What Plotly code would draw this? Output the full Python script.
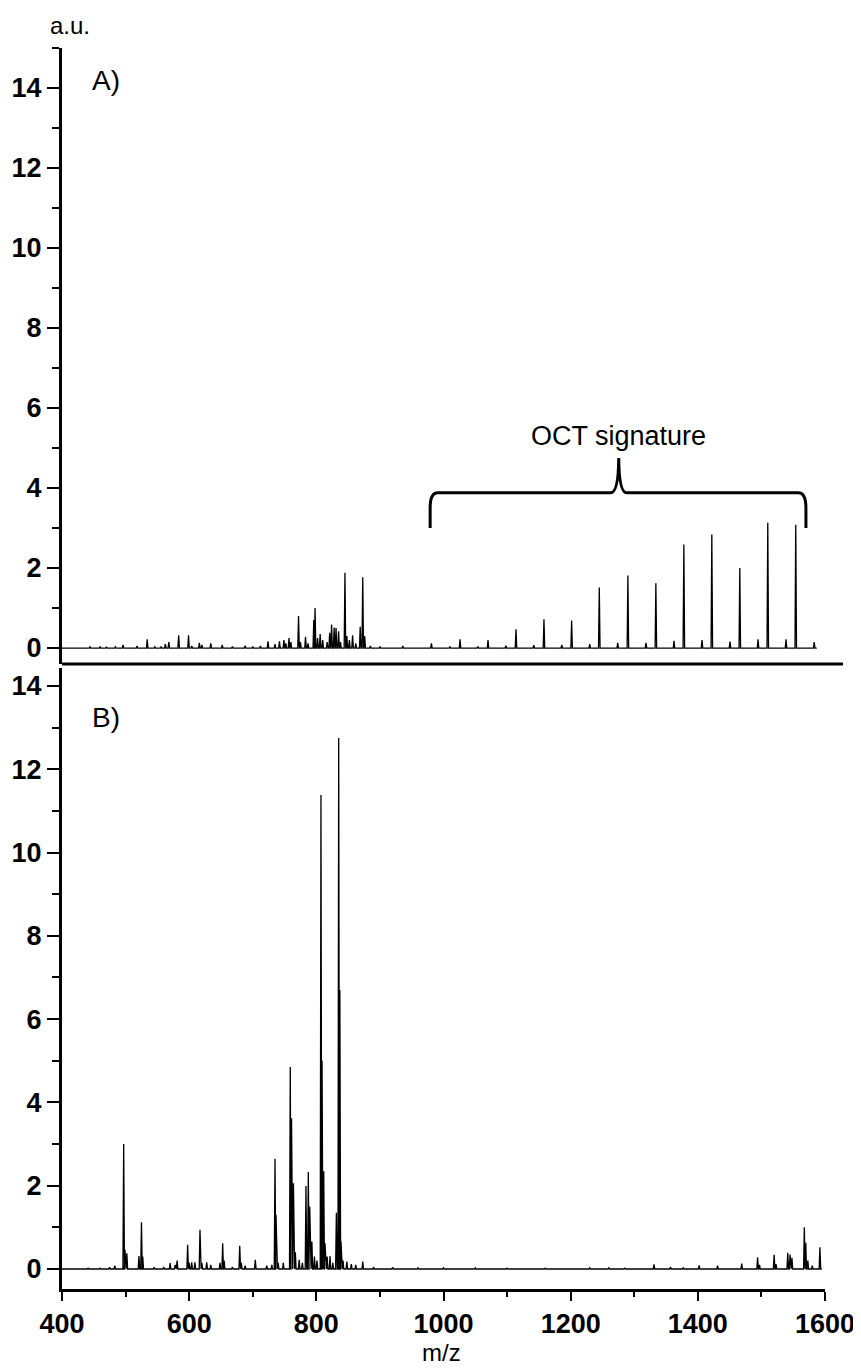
import plotly.graph_objects as go

# ---------------- data ----------------
# Panel A: sample spectrum with OCT signature (m/z, intensity in a.u.)
a_mz = [444, 460, 470, 484, 496, 518, 534, 546, 556, 562.5, 568, 583.5, 599, 604,
        616, 620, 634, 652, 668, 688, 700, 712, 724, 735, 742, 749, 752, 757, 760,
        772, 775, 783, 787, 796, 798, 802, 806, 810, 817, 821, 824, 828, 831, 835,
        838, 845, 848, 852, 857, 862, 869, 873, 876, 885, 900, 936, 981, 1010, 1026,
        1054, 1070, 1098, 1114, 1142, 1158, 1186, 1201.5, 1230, 1245, 1274, 1290,
        1318.5, 1334, 1362.5, 1378, 1406.6, 1422, 1450.6, 1466, 1494.7, 1510,
        1538.7, 1554, 1583]
a_int = [0.03, 0.04, 0.02, 0.03, 0.08, 0.05, 0.22, 0.03, 0.04, 0.10, 0.15, 0.32, 0.32, 0.05,
         0.13, 0.08, 0.12, 0.08, 0.04, 0.06, 0.04, 0.05, 0.17, 0.10, 0.17, 0.20, 0.12, 0.25, 0.15,
         0.80, 0.15, 0.28, 0.12, 0.70, 1.00, 0.25, 0.35, 0.20, 0.15, 0.38, 0.59, 0.51, 0.50, 0.42,
         0.15, 1.88, 0.30, 0.20, 0.32, 0.12, 0.53, 1.77, 0.30, 0.05, 0.04, 0.05, 0.12, 0.04, 0.22,
         0.04, 0.20, 0.06, 0.47, 0.07, 0.72, 0.08, 0.69, 0.10, 1.51, 0.13, 1.81,
         0.13, 1.62, 0.18, 2.59, 0.20, 2.84, 0.16, 2.00, 0.22, 3.13,
         0.22, 3.08, 0.15]
a_range_mz = [400, 1587]

# Panel B: reference spectrum
b_mz = [441, 460, 475, 483, 497, 499, 502, 521, 525, 527, 545, 560, 570, 578, 581,
        597.6, 600, 604, 609, 617, 620, 627.6, 634, 648.5, 652.7, 655, 668, 679.5, 682,
        688, 704, 722, 730, 735, 736.6, 740, 748, 759, 761, 764, 767, 773, 778, 783.7,
        787.4, 789.6, 793, 797, 801, 807.3, 809, 811.6, 813.6, 817, 821.5, 826, 831.5,
        835.2, 837, 838.8, 842, 848, 855, 862, 873, 890, 920, 960, 1000, 1050, 1100,
        1160, 1230, 1260, 1285, 1331, 1357, 1377, 1402, 1431, 1469, 1494, 1497, 1520,
        1523, 1541.4, 1545, 1548, 1567.5, 1569.7, 1573, 1580, 1592]
b_int = [0.02, 0.02, 0.04, 0.08, 3.00, 0.47, 0.38, 0.31, 1.12, 0.30, 0.04, 0.05, 0.14, 0.10, 0.20,
         0.58, 0.15, 0.16, 0.16, 0.94, 0.15, 0.16, 0.10, 0.15, 0.62, 0.20, 0.05, 0.56, 0.15,
         0.08, 0.22, 0.08, 0.10, 2.65, 1.30, 0.15, 0.15, 4.85, 3.62, 2.06, 0.40, 0.22, 0.15, 1.99,
         2.33, 1.50, 0.66, 0.30, 0.20, 11.38, 5.00, 2.35, 0.62, 0.30, 0.31, 0.15, 1.35,
         12.75, 6.70, 0.66, 0.20, 0.18, 0.12, 0.10, 0.18, 0.05, 0.04, 0.03, 0.03, 0.03, 0.02,
         0.02, 0.03, 0.03, 0.02, 0.11, 0.05, 0.03, 0.09, 0.08, 0.13, 0.28, 0.10, 0.34,
         0.12, 0.39, 0.35, 0.27, 1.00, 0.63, 0.20, 0.08, 0.52]
b_range_mz = [400, 1595]

x_ticks = [400, 600, 800, 1000, 1200, 1400, 1600]
y_ticks = [0, 2, 4, 6, 8, 10, 12, 14]


def stick_spectrum(mz, inten, span, half_width=1.2):
    """Turn a peak list into a line trace: narrow peaks on a zero baseline."""
    xs, ys = [span[0]], [0.0]
    for m, h in sorted(zip(mz, inten)):
        xs += [m - half_width, m, m + half_width]
        ys += [0.0, h, 0.0]
    xs.append(span[1])
    ys.append(0.0)
    return xs, ys


ax, ay = stick_spectrum(a_mz, a_int, a_range_mz)
bx, by = stick_spectrum(b_mz, b_int, b_range_mz)

FONT = "Liberation Sans, Arial, sans-serif"
LINE = dict(color="black", width=1.3)

fig = go.Figure()
fig.add_trace(go.Scatter(x=ax, y=ay, mode="lines", line=LINE, xaxis="x2", yaxis="y2",
                         hoverinfo="skip", showlegend=False))
fig.add_trace(go.Scatter(x=bx, y=by, mode="lines", line=LINE, xaxis="x", yaxis="y",
                         hoverinfo="skip", showlegend=False))

tickfont = dict(family=FONT, size=27, color="black", weight="bold")
yaxis_common = dict(
    tickmode="array", tickvals=y_ticks, ticktext=[str(v) for v in y_ticks],
    ticks="outside", ticklen=12, tickwidth=2, tickcolor="black",
    minor=dict(dtick=1, tick0=0, ticks="outside", ticklen=7, tickwidth=2, tickcolor="black"),
    showline=True, linewidth=3, linecolor="black", showgrid=False, zeroline=False,
    tickfont=tickfont, fixedrange=True, automargin=False,
)

# The page body adds an 8 px offset; margins compensate so the plot lands where the reference has it.
fig.update_layout(
    width=861, height=1368,
    margin=dict(l=54, r=44, t=40, b=87),
    paper_bgcolor="white", plot_bgcolor="white",
    showlegend=False,
    xaxis=dict(
        domain=[0, 1], range=[400, 1600], anchor="y",
        tickmode="array", tickvals=x_ticks, ticktext=[str(v) for v in x_ticks],
        ticks="outside", ticklen=9, tickwidth=2, tickcolor="black",
        minor=dict(dtick=100, tick0=400, ticks="outside", ticklen=5, tickwidth=2, tickcolor="black"),
        showline=True, linewidth=3, linecolor="black", showgrid=False, zeroline=False,
        tickfont=tickfont, automargin=False,
    ),
    yaxis=dict(domain=[0, 0.5004], range=[-0.48, 14.43], anchor="x", **yaxis_common),
    xaxis2=dict(
        domain=[0, 1], range=[400, 1600], anchor="y2", matches="x",
        showline=False, showticklabels=False, ticks="", showgrid=False, zeroline=False,
    ),
    yaxis2=dict(domain=[0.5036, 1], range=[-0.4, 15], anchor="x2", **yaxis_common),
)

# bottom frame line of panel A (extends slightly past the plot)
fig.add_shape(type="line", xref="paper", yref="paper", x0=0, x1=1.0236, y0=0.5036, y1=0.5036,
              line=dict(color="black", width=3))

# curly bracket over the OCT series
bracket = ("M 979,3.0 L 979,3.5 Q 979,3.88 991,3.88 L 1263,3.88 "
           "Q 1275,3.88 1275.6,4.75 Q 1276.2,3.88 1288,3.88 L 1558,3.88 "
           "Q 1570,3.88 1570,3.5 L 1570,3.0")
fig.add_shape(type="path", path=bracket, xref="x2", yref="y2",
              line=dict(color="black", width=3))

fig.add_annotation(x=1275, y=5.3, xref="x2", yref="y2", text="OCT signature",
                   showarrow=False, xanchor="center", yanchor="middle",
                   font=dict(family=FONT, size=27, color="black"))
fig.add_annotation(x=444, y=14.18, xref="x2", yref="y2", text="A)", showarrow=False,
                   xanchor="left", yanchor="middle", font=dict(family=FONT, size=28, color="black"))
fig.add_annotation(x=444, y=13.23, xref="x", yref="y", text="B)", showarrow=False,
                   xanchor="left", yanchor="middle", font=dict(family=FONT, size=28, color="black"))
fig.add_annotation(x=0.0105, y=1.0185, xref="paper", yref="paper", text="a.u.", showarrow=False,
                   xanchor="center", yanchor="middle", font=dict(family=FONT, size=24, color="black"))
fig.add_annotation(x=0.498, y=-0.0508, xref="paper", yref="paper", text="m/z", showarrow=False,
                   xanchor="center", yanchor="middle", font=dict(family=FONT, size=24, color="black"))

fig.write_html("out.html")
